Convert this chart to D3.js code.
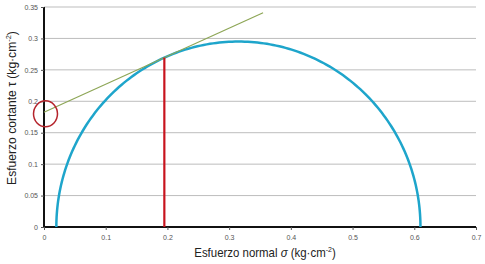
<!DOCTYPE html>
<html lang="es">
<head>
<meta charset="UTF-8" />
<title>Círculo de Mohr</title>
<style>
  body { margin: 0; background: #fff; }
  svg { display: block; }
  .tick text { font-family: "Liberation Sans Narrow", "Liberation Sans", sans-serif; font-size: 7px; fill: #555; }
  .title { font-family: "Liberation Sans Narrow", "Liberation Sans", sans-serif; font-size: 13px; fill: #222; }
</style>
</head>
<body>
<svg id="chart"></svg>
<script src="https://d3js.org/d3.v7.min.js"></script>
<script>
  // data
  const xTicks = [0, 0.1, 0.2, 0.3, 0.4, 0.5, 0.6, 0.7];
  const yTicks = [0, 0.05, 0.1, 0.15, 0.2, 0.25, 0.3, 0.35];
  const sigma3 = 0.02;          // left end of the circle
  const sigma1 = 0.61;          // right end of the circle
  const contactSigma = [0.195]; // red line (tangent point)
  const envelopeSigma = [0, 0.355];
  const cohesion = [0.18];      // intercept marked with red ellipse

  const W = 485, H = 264;
  const margin = {top: 7, right: 9, bottom: 37, left: 44};
  const width = W - margin.left - margin.right;
  const height = H - margin.top - margin.bottom;

  const root = d3.select("#chart").attr("width", W).attr("height", H);
  const svg = root.append("g").attr("transform", `translate(${margin.left},${margin.top})`);

  const x = d3.scaleLinear().domain([0, 0.7]).range([0, width]);
  const y = d3.scaleLinear().domain([0, 0.35]).range([height, 0]);

  // gridlines
  svg.append("g")
    .selectAll("line")
    .data(yTicks.slice(1))
    .join("line")
    .attr("x1", 0).attr("x2", width)
    .attr("y1", d => y(d)).attr("y2", d => y(d))
    .attr("stroke", "#bdbdbd").attr("stroke-width", 1);

  // axes
  const fmt = d => d === 0 ? "0" : String(d);
  const xAxis = svg.append("g").attr("transform", `translate(0,${height})`)
    .call(d3.axisBottom(x).tickValues(xTicks).tickFormat(fmt).tickSize(3).tickPadding(5));
  const yAxis = svg.append("g")
    .call(d3.axisLeft(y).tickValues(yTicks).tickFormat(fmt).tickSize(3).tickPadding(3));
  [xAxis, yAxis].forEach(a => {
    a.select(".domain").attr("stroke", "#111").attr("stroke-width", 2);
    a.selectAll(".tick line").attr("stroke", "#555");
  });
  yAxis.select(".domain").attr("d", `M0,${height}V0`);
  xAxis.select(".domain").attr("d", `M0,0H${width}`);

  // Mohr circle
  const c = (sigma1 + sigma3) / 2, r = (sigma1 - sigma3) / 2;
  const angles = d3.range(0, 181, 1).map(a => a * Math.PI / 180);
  svg.append("path")
    .datum(angles)
    .attr("fill", "none")
    .attr("stroke", "#1ea5cb")
    .attr("stroke-width", 2.5)
    .attr("d", d3.line().x(a => x(c + r * Math.cos(a))).y(a => y(r * Math.sin(a))));

  // tangent envelope
  const s0 = contactSigma[0];
  const t0 = Math.sqrt(r * r - (c - s0) ** 2);
  const slope = (c - s0) / t0;
  const icpt = t0 - slope * s0;
  svg.append("path")
    .datum(envelopeSigma)
    .attr("fill", "none")
    .attr("stroke", "#8da656")
    .attr("stroke-width", 1.2)
    .attr("d", d3.line().x(d => x(d)).y(d => y(icpt + slope * d)));

  // red vertical
  svg.append("line")
    .attr("x1", x(s0)).attr("x2", x(s0))
    .attr("y1", y(0)).attr("y2", y(t0))
    .attr("stroke", "#c8141e").attr("stroke-width", 2.2);

  // cohesion marker
  svg.append("ellipse")
    .attr("cx", x(0) + 1.5).attr("cy", y(cohesion[0]))
    .attr("rx", 12).attr("ry", 13)
    .attr("fill", "none").attr("stroke", "#b5242c").attr("stroke-width", 1.5);

  // axis titles (condensed look)
  root.append("text").attr("class", "title")
    .attr("transform", "translate(265,257) scale(0.88,1)").attr("text-anchor", "middle")
    .html('Esfuerzo normal <tspan font-style="italic">σ</tspan> (kg·cm<tspan dy="-5" font-size="8">-2</tspan><tspan dy="5">)</tspan>');
  root.append("text").attr("class", "title")
    .attr("transform", "translate(16,108) rotate(-90) scale(0.93,1)").attr("text-anchor", "middle")
    .html('Esfuerzo cortante τ (kg·cm<tspan dy="-5" font-size="8">-2</tspan><tspan dy="5">)</tspan>');
</script>
</body>
</html>
